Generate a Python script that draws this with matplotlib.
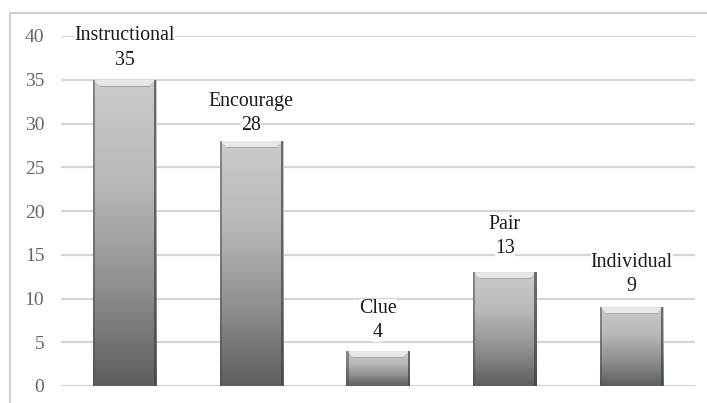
import numpy as np
import matplotlib
matplotlib.use("Agg")
import matplotlib.pyplot as plt
from matplotlib.patches import Rectangle, Polygon
from matplotlib.colors import LinearSegmentedColormap

# Feedback types and their counts
categories = ["Instructional", "Encourage", "Clue", "Pair", "Individual"]
counts = [35, 28, 4, 13, 9]
yticks = [0, 5, 10, 15, 20, 25, 30, 35, 40]

# offset (px) of each value label above its bar top
label_gap_px = [19.5, 15.5, 18.5, 23.5, 20.5]

plt.rcParams["font.family"] = ["Liberation Serif", "DejaVu Serif"]

W, H = 707, 403
fig = plt.figure(figsize=(W / 100, H / 100), dpi=100)
fig.patch.set_facecolor("white")

# light frame around the chart area
frame = Rectangle((10 / W, -0.05), 1.2, (H - 13) / H + 0.05, transform=fig.transFigure,
                  fill=False, edgecolor="#d0d0d0", linewidth=1.5)
fig.add_artist(frame)

ax = fig.add_axes([61 / W, 17 / H, (695 - 61) / W, (386 - 36) / H])
ax.set_xlim(-0.5, len(categories) - 0.5)
ax.set_ylim(0, 40)
for s in ax.spines.values():
    s.set_visible(False)
ax.set_xticks([])
ax.set_yticks(yticks)
ax.tick_params(axis="y", length=0, pad=12, labelsize=14, labelcolor="#666666")
ax.yaxis.grid(True, color="#d9d4d4", linewidth=1.6)
ax.set_axisbelow(True)

# pixel -> data conversion for bevel sizes
ax_w_px = 695 - 61
ax_h_px = 386 - 36
dx = len(categories) / ax_w_px
dy = 40 / ax_h_px

cmap = LinearSegmentedColormap.from_list("bar", ["#5c5f60", "#8f9192", "#b7b9ba", "#c9cbcc"])
grad = np.linspace(0, 1, 256).reshape(-1, 1)

bw = 0.5
for i, (name, v, gap) in enumerate(zip(categories, counts, label_gap_px)):
    x0, x1 = i - bw / 2, i + bw / 2
    rect = Rectangle((x0, 0), bw, v, facecolor="none", edgecolor="none", zorder=2)
    ax.add_patch(rect)
    img = ax.imshow(grad, extent=(x0, x1, 0, v), origin="lower", cmap=cmap,
                    vmin=0, vmax=1.0, aspect="auto", zorder=2,
                    interpolation="bilinear")
    img.set_clip_path(rect)
    # bevel: lighter top band with slanted corners
    b_x = 7 * dx
    b_y = 6 * dy
    top = Polygon([(x0, v), (x1, v), (x1 - b_x, v - b_y), (x0 + b_x, v - b_y)],
                  closed=True, facecolor="#e6e7e8", edgecolor="none", zorder=3)
    ax.add_patch(top)
    ax.plot([x0 + b_x, x1 - b_x], [v - b_y, v - b_y], color="#a9abac", lw=0.8, zorder=3)
    # dark side edges
    ax.add_patch(Rectangle((x0, 0), 2.2 * dx, v, facecolor="#4a4c4d", edgecolor="none",
                           alpha=0.55, zorder=3))
    ax.add_patch(Rectangle((x1 - 2.2 * dx, 0), 2.2 * dx, v, facecolor="#3f4142",
                           edgecolor="none", alpha=0.7, zorder=3))

    # category name and value above each bar
    box = dict(boxstyle="square,pad=0.0", facecolor="white", edgecolor="none")
    gap_pt = gap * 0.72
    ax.annotate(f"{v}", xy=(i, v), xytext=(0, gap_pt), textcoords="offset points",
                ha="center", va="center", fontsize=14.3, color="#1a1a1a",
                zorder=5, bbox=box)
    ax.annotate(name, xy=(i, v), xytext=(0, gap_pt + 17.5), textcoords="offset points",
                ha="center", va="center", fontsize=14.3, color="#1a1a1a",
                zorder=5, bbox=box)

fig.savefig("out.png", dpi=100, facecolor="white")
